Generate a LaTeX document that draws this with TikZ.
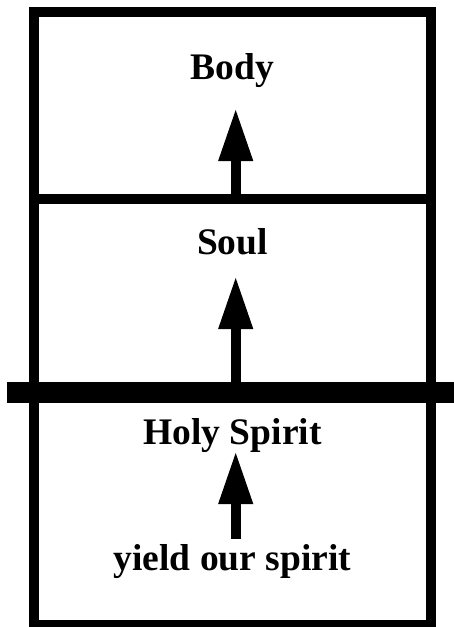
\documentclass[tikz,border=0pt]{standalone}
\usepackage{fontspec}
\setmainfont{Liberation Serif}
\usepackage{tikz}
\usetikzlibrary{arrows.meta, positioning}

\begin{document}
\begin{tikzpicture}[x=1pt, y=-1pt,
        label/.style={anchor=base, inner sep=0pt, font=\fontsize{37.5}{42}\selectfont\bfseries},
        frame/.style={draw=black, line width=10pt},
        bar/.style={draw=black, line width=21pt},
        uparrow/.style={line width=10pt, -{Triangle[length=53pt, width=32pt]}}
    ]
        \useasboundingbox (0,0) rectangle (453,627);
        % frame and dividers
        \draw[frame] (33.5,12) rectangle (431,625);
        \draw[frame] (33.5,199) -- (431,199);
        \draw[bar] (7,392.5) -- (460,392.5);

        \node[label] (body) at (232.5,79) {Body};
        \node[label] (soul) at (232.5,254) {Soul};
        \node[label] (holy) at (232.5,444) {Holy Spirit};
        \node[label] (yield) at (232.5,570) {yield our spirit};

        \coordinate (t1) at (235.7,108);
        \coordinate (b1) at (235.7,195);
        \coordinate (t2) at (235.7,276);
        \coordinate (b2) at (235.7,383);
        \coordinate (t3) at (235.7,451);
        \coordinate (b3) at (235.7,539);

        \draw[uparrow] (b1) -- (t1);
        \draw[uparrow] (b2) -- (t2);
        \draw[uparrow] (b3) -- (t3);
    \end{tikzpicture}
\end{document}
